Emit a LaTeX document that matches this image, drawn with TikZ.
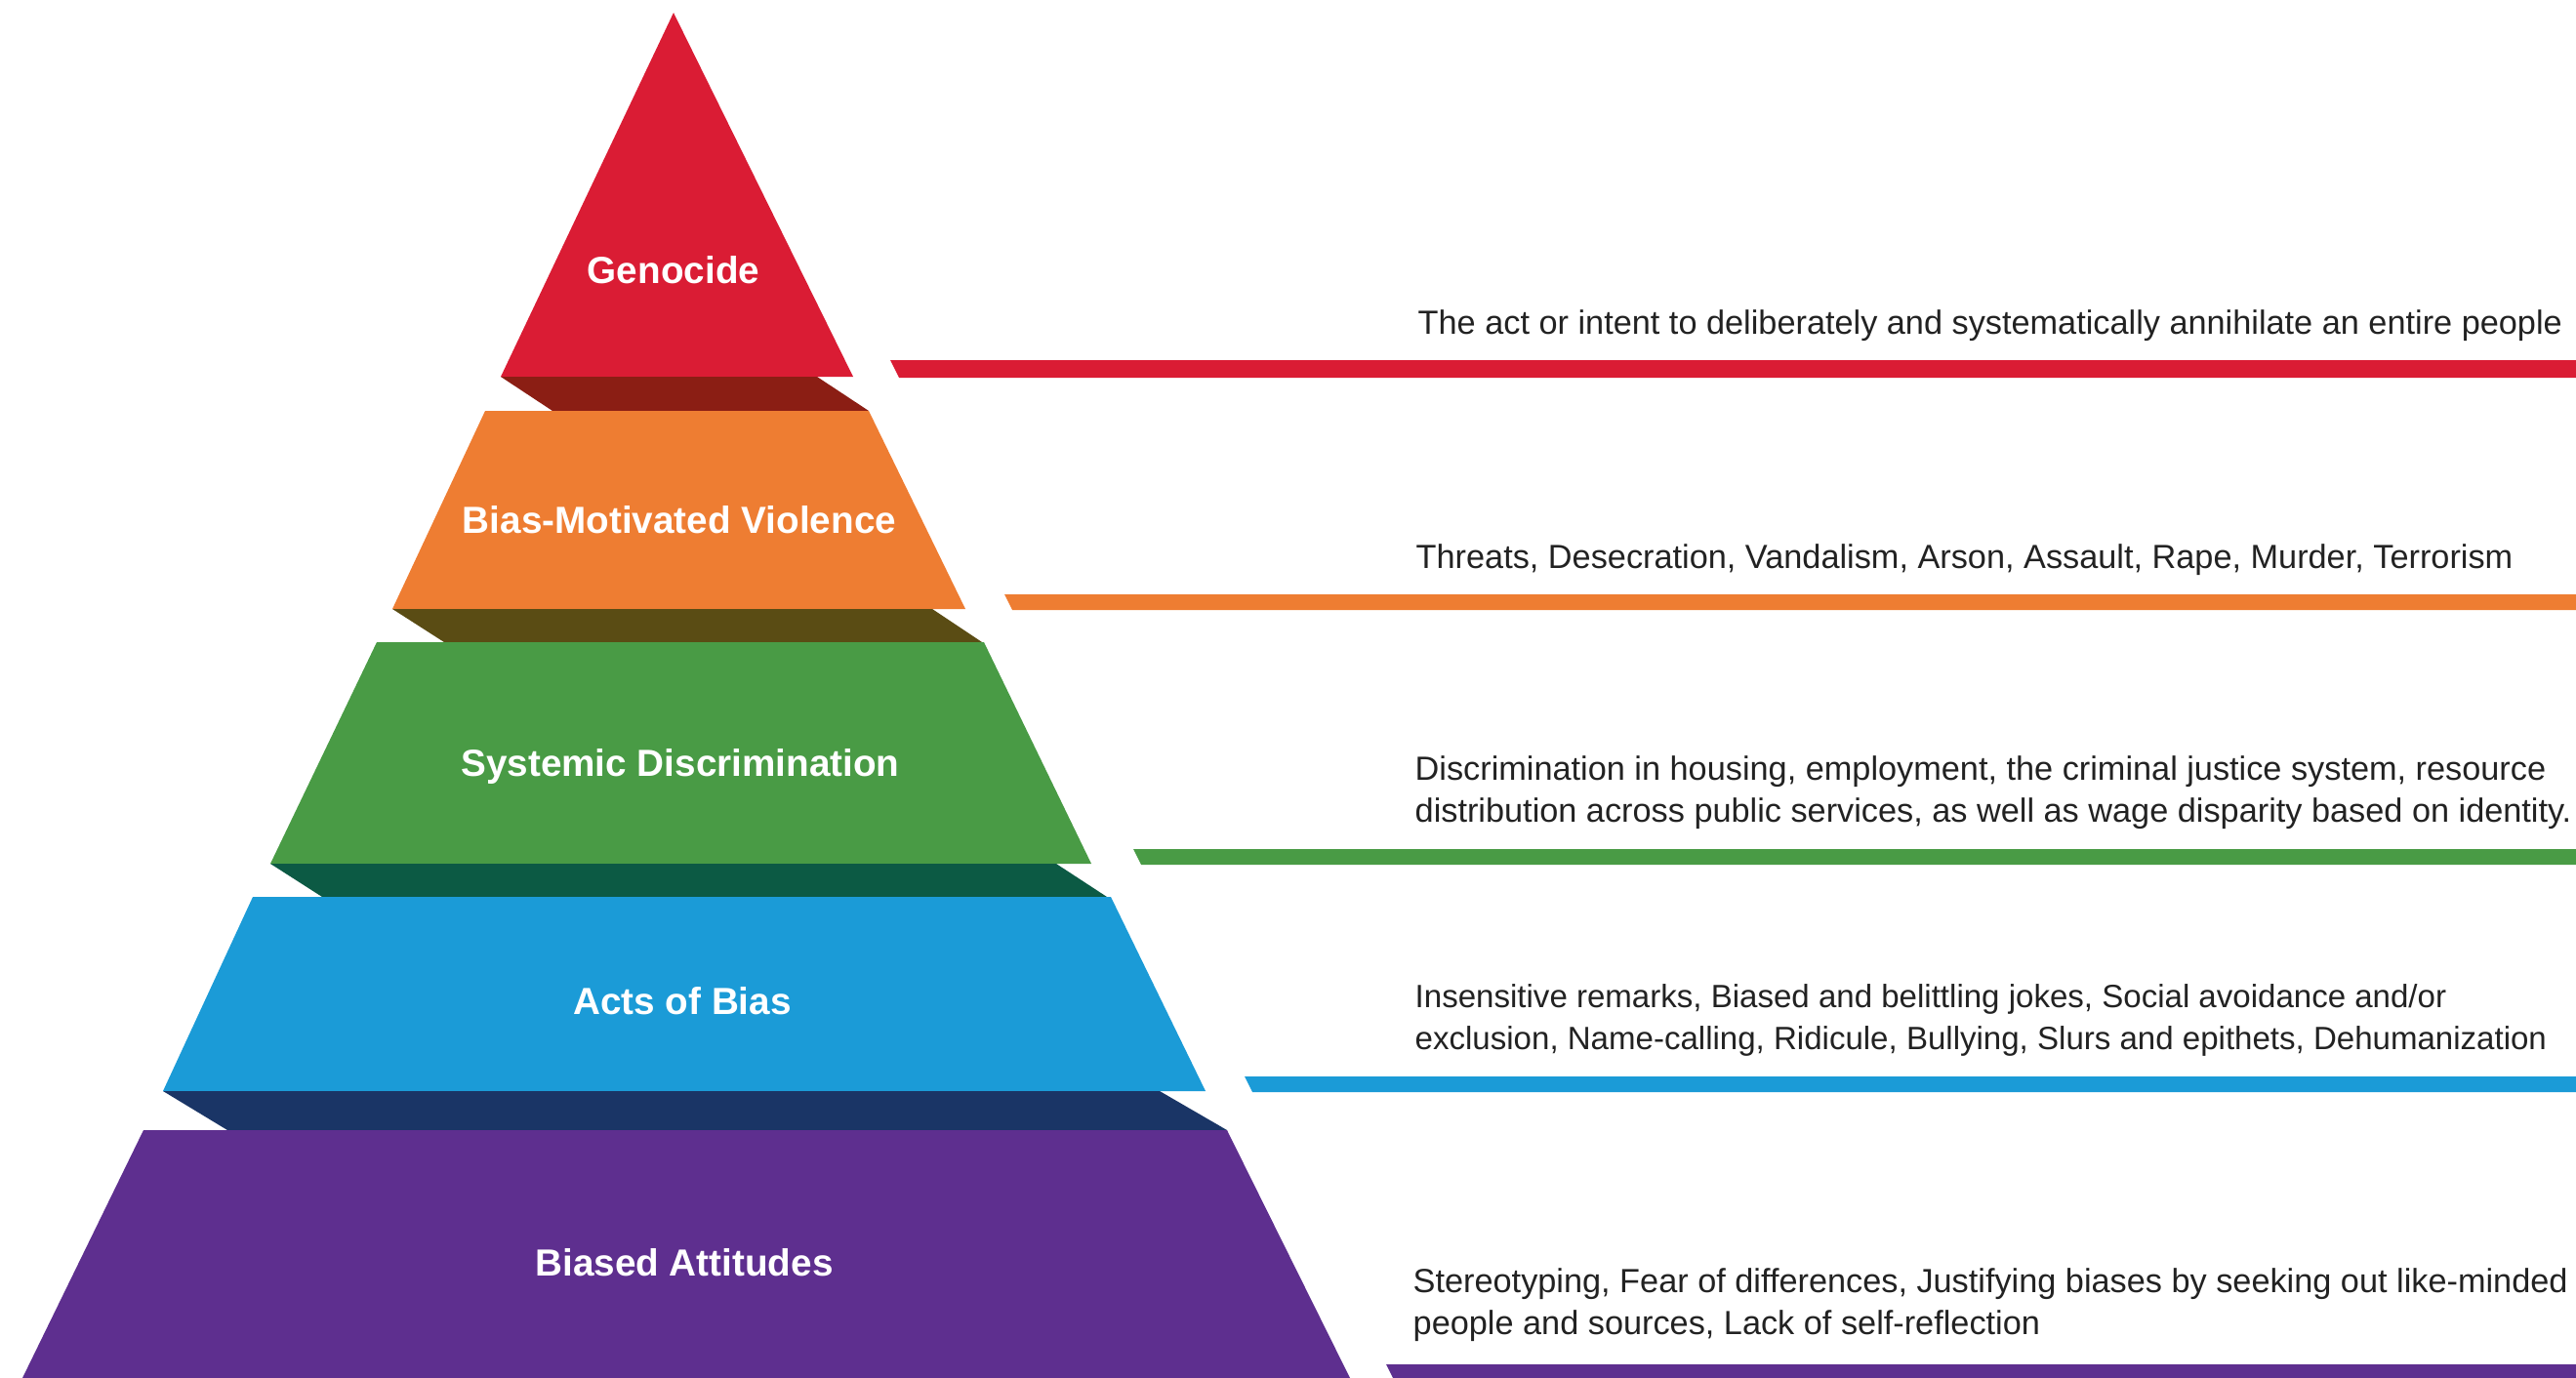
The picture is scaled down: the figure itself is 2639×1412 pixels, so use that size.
\documentclass[tikz,border=0pt]{standalone}
\usepackage{fontspec}
\setmainfont{Liberation Sans}
\definecolor{genred}{RGB}{218,28,52}
\definecolor{genredside}{RGB}{139,30,20}
\definecolor{violorange}{RGB}{238,125,50}
\definecolor{violorangeside}{RGB}{90,76,20}
\definecolor{sysgreen}{RGB}{73,155,69}
\definecolor{sysgreenside}{RGB}{12,90,68}
\definecolor{actblue}{RGB}{27,155,215}
\definecolor{actblueside}{RGB}{26,53,102}
\definecolor{attpurple}{RGB}{94,47,143}
\definecolor{desctext}{RGB}{34,34,34}
\begin{document}
\begin{tikzpicture}[x=0.01cm,y=-0.01cm,
		levellabel/.style={anchor=base,inner sep=0pt,text=white,font=\fontsize{11}{13}\selectfont\bfseries},
		desc/.style={anchor=base west,inner sep=0pt,align=left,text=desctext,font=\fontsize{9.75}{12}\selectfont}]
		\useasboundingbox (0,0) rectangle (2639,1412);
		\fill [genred] (690,13) -- (874,386) -- (513,386) -- cycle;
		\fill [genredside] (513,386) -- (837,386) -- (890,421) -- (566,421) -- cycle;
		\fill [violorange] (497,421) -- (890,421) -- (989,624) -- (402,624) -- cycle;
		\fill [violorangeside] (402,624) -- (955,624) -- (1006,658) -- (455,658) -- cycle;
		\fill [sysgreen] (386,658) -- (1008,658) -- (1118,885) -- (277,885) -- cycle;
		\fill [sysgreenside] (277,885) -- (1082,885) -- (1134,919) -- (330,919) -- cycle;
		\fill [actblue] (259,919) -- (1138,919) -- (1235,1118) -- (167,1118) -- cycle;
		\fill [actblueside] (167,1118) -- (1188,1118) -- (1257,1158) -- (233,1158) -- cycle;
		\fill [attpurple] (147,1158) -- (1257,1158) -- (1383,1412) -- (23,1412) -- cycle;
		\node [levellabel] (genocide) at (690,290) {Genocide};
		\node [levellabel] (violence) at (696,546) {Bias-Motivated Violence};
		\node [levellabel] (discrimination) at (697,795) {Systemic Discrimination};
		\node [levellabel] (acts) at (699,1039) {Acts of Bias};
		\node [levellabel] (attitudes) at (701,1307) {Biased Attitudes};
		\fill [genred] (912,369) -- (2639,369) -- (2639,387) -- (921,387) -- cycle;
		\fill [violorange] (1029,609) -- (2639,609) -- (2639,625) -- (1037,625) -- cycle;
		\fill [sysgreen] (1161,870) -- (2639,870) -- (2639,886) -- (1169,886) -- cycle;
		\fill [actblue] (1275,1103) -- (2639,1103) -- (2639,1119) -- (1283,1119) -- cycle;
		\fill [attpurple] (1420,1398) -- (2639,1398) -- (2639,1412) -- (1427,1412) -- cycle;
		\node [desc] (genocidedesc) at (1452,342) {The act or intent to deliberately and systematically annihilate an entire people};
		\node [desc] (violencedesc) at (1450,582) {Threats, Desecration, Vandalism, Arson, Assault, Rape, Murder, Terrorism};
		\node [desc] (discriminationdesc) at (1449,842) {Discrimination in housing, employment, the criminal justice system, resource\\distribution across public services, as well as wage disparity based on identity.};
		\node [desc,font=\fontsize{9.4}{12}\selectfont] (actsdesc) at (1449,1075) {Insensitive remarks, Biased and belittling jokes, Social avoidance and/or\\exclusion, Name-calling, Ridicule, Bullying, Slurs and epithets, Dehumanization};
		\node [desc] (attitudesdesc) at (1447,1367) {Stereotyping, Fear of differences, Justifying biases by seeking out like-minded\\people and sources, Lack of self-reflection};
\end{tikzpicture}
\end{document}
